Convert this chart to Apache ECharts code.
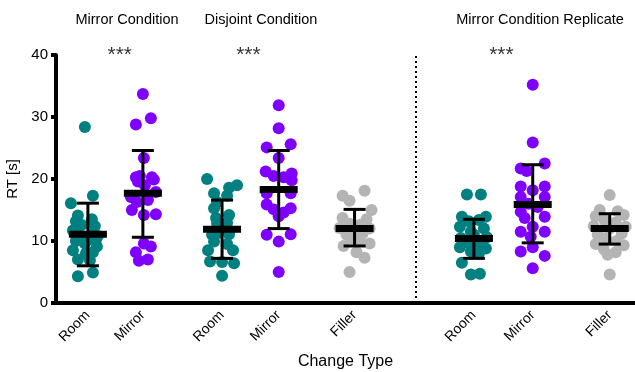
<!DOCTYPE html>
<html>
<head>
<meta charset="utf-8">
<script src="https://cdn.jsdelivr.net/npm/echarts@6/dist/echarts.min.js"></script>
<style>
  html, body { margin: 0; padding: 0; background: #fff; }
  #chart { width: 635px; height: 372px; }
</style>
</head>
<body>
<div id="chart"></div>
<script>
var chart = echarts.init(document.getElementById('chart'));

// category names and their x slot on the axis (left to right)
var catNames = ['Room', 'Mirror', 'Room', 'Mirror', 'Filler', 'Room', 'Mirror', 'Filler'];
var catPos = [1, 2, 3.44, 4.47, 5.85, 8.02, 9.09, 10.49];
var dividerPos = 6.96;
var starPos = [1.58, 3.92, 8.52];

// points per group: [jitter, RT]
var room1 = [[-3,28.4],[5,17.3],[-17,16.1],[-10,14.1],[-12,13.2],[4,13.5],[7,12.4],[-6,12.6],[-15,11.7],
  [-8,11.0],[6,11.2],[10,10.8],[0,10.2],[-12,10.0],[8,10.3],[-3,9.6],[9,9.1],[-15,8.5],[5,8.2],[-2,8.0],
  [-10,7.0],[2,6.9],[-10,4.3],[5,4.9]];
var mirror1 = [[0,33.7],[8,29.8],[-7,28.8],[1,23.4],[-7,20.3],[-3,20.5],[9,20.3],[11,19.9],[-5,19.6],[2,19.0],
  [-12,17.1],[13,17.9],[-6,16.3],[5,16.6],[-11,15.0],[1,14.2],[13,14.3],[1,9.6],[8,9.1],[-7,8.2],[-4,6.8],[5,7.0]];
var room2 = [[-15,20.0],[15,19.0],[7,18.6],[-8,17.7],[5,17.3],[-5,16.3],[-8,15.3],[-6,13.7],[7,14.2],[5,12.9],
  [-5,12.8],[-4,11.3],[-10,11.0],[7,11.1],[-8,9.9],[5,9.5],[-14,8.5],[11,8.5],[-12,6.7],[0,6.6],[12,6.4],[0,4.4]];
var mirror2 = [[0,31.9],[0,28.2],[12,25.6],[-12,25.1],[0,23.4],[-13,21.2],[13,20.9],[13,19.8],[-5,20.5],[5,20.3],
  [-12,17.7],[12,17.7],[-12,15.9],[12,15.3],[-5,15.1],[0,14.0],[5,14.6],[-12,11.0],[12,11.1],[0,9.9],[0,5.0]];
var filler1 = [[-12,17.3],[10,18.1],[-5,16.5],[17,15.0],[-12,13.7],[12,13.5],[-5,12.8],[5,12.6],[-15,12.1],[15,12.0],
  [0,11.5],[-8,11.0],[8,11.2],[-3,10.4],[5,10.0],[-11,9.2],[15,9.6],[2,8.2],[10,7.3],[-5,5.0]];
var room3 = [[-7,17.5],[7,17.5],[-12,13.9],[12,13.9],[-5,13.2],[5,13.4],[-14,12.3],[10,12.0],[-3,11.5],[0,11.0],
  [-13,10.5],[13,10.6],[-6,9.8],[6,9.6],[-14,9.0],[12,8.8],[-3,8.3],[5,8.0],[-12,6.5],[-3,4.6],[6,4.7]];
var mirror3 = [[0,35.2],[0,25.9],[12,22.5],[-12,21.7],[-6,21.3],[-12,18.8],[12,18.8],[0,18.2],[-12,17.1],[12,17.1],
  [-4,16.0],[5,15.5],[-12,14.7],[12,13.9],[-8,13.7],[0,12.3],[-12,11.5],[12,11.5],[-2,10.7],[0,9.0],[-12,8.3],[12,7.6],[0,5.6]];
var filler3 = [[0,17.4],[-10,15.0],[8,14.8],[-14,14.0],[14,14.2],[-5,13.3],[6,13.0],[-16,12.4],[16,12.3],[0,12.0],
  [-12,11.0],[12,11.2],[-4,10.5],[7,10.0],[-14,9.5],[14,9.3],[-6,8.7],[6,8.2],[-2,7.8],[0,4.6]];
var groups = [room1, mirror1, room2, mirror2, filler1, room3, mirror3, filler3];

// mean, lower, upper per group
var means = [11.1, 17.7, 11.9, 18.3, 12.0, 10.4, 15.9, 12.0];
var lows = [6.0, 10.6, 7.2, 12.0, 9.2, 7.2, 9.7, 9.5];
var highs = [16.1, 24.6, 16.6, 24.6, 15.1, 13.5, 22.3, 14.4];

var colors = { Room: '#008080', Mirror: '#8000ff', Filler: '#b4b4b4' };
var FONT = '"Liberation Sans", Arial, sans-serif';

var series = [];
groups.forEach(function (pts, i) {
  series.push({
    type: 'scatter',
    symbolSize: 12,
    itemStyle: { color: colors[catNames[i]], opacity: 1 },
    data: pts.map(function (p) { return [catPos[i] + p[0] / 55, p[1]]; }),
    z: 2
  });
});

series.push({
  type: 'custom',
  z: 5,
  data: catPos.map(function (x, i) { return [x, means[i], lows[i], highs[i]]; }),
  encode: { x: 0, y: [1, 2, 3] },
  renderItem: function (params, api) {
    var pm = api.coord([api.value(0), api.value(1)]);
    var pl = api.coord([api.value(0), api.value(2)]);
    var ph = api.coord([api.value(0), api.value(3)]);
    var st = { stroke: '#000', lineWidth: 3 };
    return {
      type: 'group',
      children: [
        { type: 'line', shape: { x1: pm[0], y1: pl[1], x2: pm[0], y2: ph[1] }, style: st },
        { type: 'line', shape: { x1: pm[0] - 11, y1: pl[1], x2: pm[0] + 11, y2: pl[1] }, style: st },
        { type: 'line', shape: { x1: pm[0] - 11, y1: ph[1], x2: pm[0] + 11, y2: ph[1] }, style: st },
        { type: 'rect', shape: { x: pm[0] - 19, y: pm[1] - 3.5, width: 38, height: 7 }, style: { fill: '#000' } }
      ]
    };
  }
});

// significance stars + divider
series.push({
  type: 'scatter',
  symbolSize: 0,
  clip: false,
  silent: true,
  data: starPos.map(function (x) { return [x, 40]; }),
  label: { show: true, position: 'inside', formatter: '***', color: '#000', fontSize: 21, fontFamily: FONT },
  markLine: {
    symbol: 'none',
    silent: true,
    label: { show: false },
    lineStyle: { type: [2, 3], color: '#000', width: 2 },
    data: [[{ coord: [dividerPos, 0] }, { coord: [dividerPos, 40] }]]
  }
});

var option = {
  animation: false,
  backgroundColor: '#fff',
  textStyle: { fontFamily: FONT },
  grid: { left: 56, right: 0, top: 55, bottom: 69, outerBoundsMode: 'none', containLabel: false },
  xAxis: {
    type: 'value',
    min: 0.42,
    max: 10.95,
    name: 'Change Type',
    nameLocation: 'middle',
    nameGap: 51,
    nameTextStyle: { fontSize: 16, color: '#000', fontFamily: FONT },
    splitLine: { show: false },
    axisTick: { show: false },
    axisLine: { lineStyle: { color: '#000', width: 4 } },
    axisLabel: {
      customValues: catPos,
      rotate: 45,
      margin: 10,
      fontSize: 14,
      color: '#000',
      fontFamily: FONT,
      formatter: function (v) {
        var i = catPos.indexOf(v);
        return i >= 0 ? catNames[i] : '';
      }
    }
  },
  yAxis: {
    type: 'value',
    min: 0,
    max: 40,
    interval: 10,
    name: 'RT [s]',
    nameLocation: 'middle',
    nameGap: 36,
    nameTextStyle: { fontSize: 15, color: '#000', fontFamily: FONT },
    splitLine: { show: false },
    axisLine: { show: true, lineStyle: { color: '#000', width: 4 } },
    axisTick: { show: true, length: 5, lineStyle: { color: '#000', width: 4 } },
    axisLabel: { fontSize: 15, color: '#000', margin: 8, fontFamily: FONT }
  },
  graphic: [
    { type: 'text', x: 127, y: 20, style: { text: 'Mirror Condition', fontSize: 14.5, fontFamily: FONT, fill: '#000', textAlign: 'center', textVerticalAlign: 'middle' } },
    { type: 'text', x: 261, y: 20, style: { text: 'Disjoint Condition', fontSize: 14.5, fontFamily: FONT, fill: '#000', textAlign: 'center', textVerticalAlign: 'middle' } },
    { type: 'text', x: 540, y: 20, style: { text: 'Mirror Condition Replicate', fontSize: 14.5, fontFamily: FONT, fill: '#000', textAlign: 'center', textVerticalAlign: 'middle' } }
  ],
  series: series
};

chart.setOption(option);
</script>
</body>
</html>
